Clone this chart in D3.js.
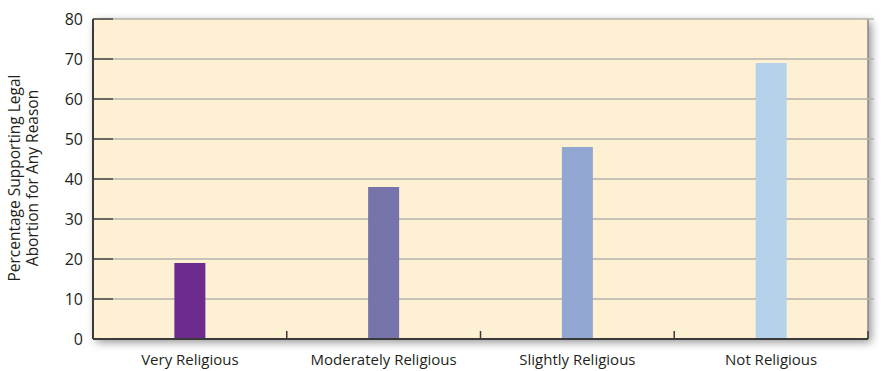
<!DOCTYPE html>
<html>
<head>
<meta charset="utf-8">
<script src="https://cdn.jsdelivr.net/npm/d3@7"></script>
<style>
  html, body { margin: 0; padding: 0; background: #fff; }
  svg { display: block; font-family: "Open Sans", "Noto Sans", sans-serif; }
</style>
</head>
<body>
<div id="chart"></div>
<script>
const categories = ["Very Religious", "Moderately Religious", "Slightly Religious", "Not Religious"];
const values = [19, 38, 48, 69];
const barColors = ["#6e2b8e", "#7674aa", "#91a6d1", "#b4d3eb"];
const yTicks = [0, 10, 20, 30, 40, 50, 60, 70, 80];
const yTitle = ["Percentage Supporting Legal", "Abortion for Any Reason"];

const W = 887, H = 371;
const margin = { top: 19, right: 19, bottom: 32, left: 93 };
const width = W - margin.left - margin.right;
const height = H - margin.top - margin.bottom;

const svg = d3.select("#chart").append("svg")
  .attr("width", W).attr("height", H)
  .attr("viewBox", [0, 0, W, H]);

// drop shadow for the plot panel
const defs = svg.append("defs");
const f = defs.append("filter").attr("id", "shadow")
  .attr("x", "-5%").attr("y", "-10%").attr("width", "112%").attr("height", "125%");
f.append("feDropShadow")
  .attr("dx", 3).attr("dy", 3).attr("stdDeviation", 5)
  .attr("flood-color", "#000").attr("flood-opacity", 0.45);

const g = svg.append("g").attr("transform", `translate(${margin.left},${margin.top})`);

const x = d3.scaleBand().domain(categories).range([0, width]).paddingInner(0).paddingOuter(0);
const y = d3.scaleLinear().domain([0, 80]).range([height, 0]);

// panel
g.append("rect")
  .attr("width", width).attr("height", height)
  .attr("fill", "#fef0d3")
  .attr("filter", "url(#shadow)");

// right border
g.append("line")
  .attr("x1", width).attr("x2", width).attr("y1", 0).attr("y2", height)
  .attr("stroke", "#8a8a8a").attr("stroke-width", 1.5);

// gridlines (grey) with dark tick stubs on the left
g.append("g")
  .selectAll("line")
  .data(yTicks.filter(d => d > 0))
  .join("line")
  .attr("x1", 20).attr("x2", width + 6)
  .attr("y1", d => y(d)).attr("y2", d => y(d))
  .attr("stroke", "#b5b3ae").attr("stroke-width", 1.5);

g.append("g")
  .selectAll("line")
  .data(yTicks.filter(d => d > 0))
  .join("line")
  .attr("x1", 0).attr("x2", 20)
  .attr("y1", d => y(d)).attr("y2", d => y(d))
  .attr("stroke", "#3a3a3a").attr("stroke-width", 1.5);

// bars
const barW = 31;
g.append("g")
  .selectAll("rect")
  .data(values)
  .join("rect")
  .attr("x", (d, i) => x(categories[i]) + x.bandwidth() / 2 - barW / 2)
  .attr("y", d => y(d))
  .attr("width", barW)
  .attr("height", d => y(0) - y(d))
  .attr("fill", (d, i) => barColors[i]);

// axes lines
g.append("line")
  .attr("x1", 0).attr("x2", 0).attr("y1", 0).attr("y2", height)
  .attr("stroke", "#3a3a3a").attr("stroke-width", 2);
g.append("line")
  .attr("x1", 0).attr("x2", width).attr("y1", height).attr("y2", height)
  .attr("stroke", "#3a3a3a").attr("stroke-width", 2);

// category divider ticks on x axis
g.append("g")
  .selectAll("line")
  .data(categories.slice(1).concat([null]))
  .join("line")
  .attr("x1", (d) => d ? x(d) : width)
  .attr("x2", (d) => d ? x(d) : width)
  .attr("y1", height).attr("y2", height - 8)
  .attr("stroke", "#3a3a3a").attr("stroke-width", 1.5);

// y labels
g.append("g")
  .call(d3.axisLeft(y).tickValues(yTicks).tickSize(0).tickPadding(10))
  .call(a => a.select(".domain").remove())
  .selectAll("text")
  .attr("fill", "#231f20")
  .style("font-family", "\"Open Sans\", sans-serif")
  .style("font-size", "16px");

// x labels
g.append("g")
  .attr("transform", `translate(0,${height})`)
  .call(d3.axisBottom(x).tickSize(0).tickPadding(15))
  .call(a => a.select(".domain").remove())
  .selectAll("text")
  .attr("fill", "#231f20")
  .style("font-family", "\"Open Sans\", sans-serif")
  .style("font-size", "15px");

// y title
const title = svg.append("text")
  .attr("transform", `translate(20,${margin.top + height / 2 - 1}) rotate(-90)`)
  .attr("text-anchor", "middle")
  .attr("fill", "#231f20")
  .style("font-size", "15.5px");
title.selectAll("tspan")
  .data(yTitle)
  .join("tspan")
  .attr("x", 0)
  .attr("dy", (d, i) => i === 0 ? 0 : 18)
  .text(d => d);
</script>
</body>
</html>
